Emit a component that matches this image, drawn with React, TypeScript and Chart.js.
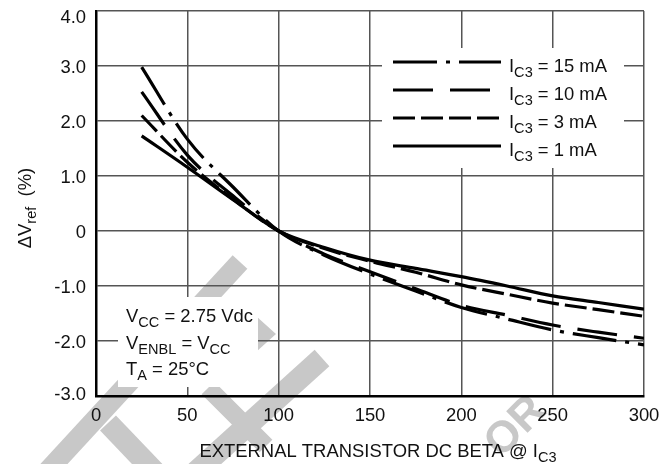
import React, { useEffect, useRef } from "react";
import { Chart, registerables } from "chart.js";

Chart.register(...registerables);

// ---- data ----
const betaValues = [25, 50, 75, 100, 125, 150, 175, 200, 225, 250, 275, 300];
const ic15mA = [2.98, 1.67, 0.8, 0, -0.44, -0.78, -1.09, -1.39, -1.6, -1.8, -1.94, -2.07];
const ic10mA = [2.53, 1.38, 0.64, 0, -0.42, -0.74, -1.05, -1.35, -1.53, -1.71, -1.84, -1.95];
const ic3mA = [2.1, 1.25, 0.58, 0, -0.32, -0.55, -0.75, -0.98, -1.15, -1.31, -1.43, -1.55];
const ic1mA = [1.73, 1.16, 0.57, 0, -0.3, -0.53, -0.68, -0.83, -1.0, -1.18, -1.3, -1.42];
const seriesLabels = ["15 mA", "10 mA", "3 mA", "1 mA"];
const xTicks = [0, 50, 100, 150, 200, 250, 300];
const yTicks = [4, 3, 2, 1, 0, -1, -2, -3];
const yTickLabels = ["4.0", "3.0", "2.0", "1.0", "0", "-1.0", "-2.0", "-3.0"];
const xTickLabels = ["0", "50", "100", "150", "200", "250", "300"];
const conditions = [
  [{ t: "V" }, { t: "CC", sub: true }, { t: " = 2.75 Vdc" }],
  [{ t: "V" }, { t: "ENBL", sub: true }, { t: " = V" }, { t: "CC", sub: true }],
  [{ t: "T" }, { t: "A", sub: true }, { t: " = 25°C" }],
];

// ---- styles ----
const FONT_FAMILY = '"Liberation Sans", Arial, sans-serif';
const MAIN_SIZE = 19;
const SUB_SIZE = 15;
const SUB_SHIFT = 5;
const HSCALE = 0.97;
const DASHES: number[][] = [[44, 9, 4, 9], [40, 17], [22, 6], []];

type Part = { t: string; sub?: boolean };

function partsWidth(ctx: CanvasRenderingContext2D, parts: Part[]) {
  let w = 0;
  for (const p of parts) {
    ctx.font = `${p.sub ? SUB_SIZE : MAIN_SIZE}px ${FONT_FAMILY}`;
    w += ctx.measureText(p.t).width;
  }
  return w;
}

function drawRich(
  ctx: CanvasRenderingContext2D,
  parts: Part[],
  x: number,
  y: number,
  align: "left" | "center" | "right" = "left"
) {
  ctx.save();
  ctx.translate(x, y);
  ctx.scale(HSCALE, 1);
  ctx.fillStyle = "#111";
  ctx.textBaseline = "alphabetic";
  ctx.textAlign = "left";
  const w = partsWidth(ctx, parts);
  let cx = align === "left" ? 0 : align === "center" ? -w / 2 : -w;
  for (const p of parts) {
    ctx.font = `${p.sub ? SUB_SIZE : MAIN_SIZE}px ${FONT_FAMILY}`;
    ctx.fillText(p.t, cx, p.sub ? SUB_SHIFT : 0);
    cx += ctx.measureText(p.t).width;
  }
  ctx.restore();
}

function band(ctx: CanvasRenderingContext2D, x1: number, y1: number, x2: number, y2: number, w: number) {
  ctx.beginPath();
  ctx.moveTo(x1, y1);
  ctx.lineTo(x2, y2);
  ctx.lineWidth = w;
  ctx.stroke();
}

const watermarkPlugin = {
  id: "watermark",
  beforeDraw(chart: any) {
    const ctx: CanvasRenderingContext2D = chart.ctx;
    ctx.save();
    ctx.strokeStyle = "#c8c8c8";
    ctx.fillStyle = "#c8c8c8";
    ctx.lineCap = "butt";
    band(ctx, 240, 262, 30, 490, 20);
    band(ctx, 108, 423, 172, 490, 22);
    band(ctx, 322, 358, 196, 472, 22);
    band(ctx, 208, 388, 266, 446, 18);
    ctx.beginPath();
    ctx.moveTo(256, 316);
    ctx.lineTo(276, 334);
    ctx.lineTo(256, 352);
    ctx.closePath();
    ctx.fill();
    ctx.translate(516, 427);
    ctx.rotate(-Math.PI / 4);
    ctx.font = `bold 44px ${FONT_FAMILY}`;
    ctx.textAlign = "center";
    ctx.textBaseline = "middle";
    ctx.fillText("OR", 0, 0);
    ctx.restore();
  },
};

const overlayPlugin = {
  id: "overlay",
  afterDraw(chart: any) {
    const ctx: CanvasRenderingContext2D = chart.ctx;
    const xs = chart.scales.x;
    const ys = chart.scales.y;
    const area = chart.chartArea;
    ctx.save();

    // white boxes
    ctx.fillStyle = "#fff";
    ctx.fillRect(382, 48, 242, 120);
    ctx.fillRect(118, 297, 140, 90);

    // legend
    const rowY = [62, 90, 118, 146];
    seriesLabels.forEach((lab, i) => {
      ctx.save();
      ctx.strokeStyle = "#000";
      ctx.lineWidth = 3.2;
      ctx.setLineDash(DASHES[i]);
      ctx.beginPath();
      ctx.moveTo(393, rowY[i]);
      ctx.lineTo(501, rowY[i]);
      ctx.stroke();
      ctx.restore();
      drawRich(ctx, [{ t: "I" }, { t: "C3", sub: true }, { t: " = " + lab }], 509, rowY[i] + 10);
    });

    // conditions
    const condY = [322, 349, 375];
    conditions.forEach((parts, i) => drawRich(ctx, parts as Part[], 126, condY[i]));

    // y tick labels
    yTicks.forEach((v, i) => {
      let py = ys.getPixelForValue(v);
      py = Math.max(area.top + 5, Math.min(area.bottom - 3, py));
      drawRich(ctx, [{ t: yTickLabels[i] }], 86, py + 7, "right");
    });

    // x tick labels
    xTicks.forEach((v, i) => {
      drawRich(ctx, [{ t: xTickLabels[i] }], xs.getPixelForValue(v), 421, "center");
    });

    // x title
    drawRich(
      ctx,
      [{ t: "EXTERNAL TRANSISTOR DC BETA @ I" }, { t: "C3", sub: true }],
      (area.left + area.right) / 2 + 8,
      457,
      "center"
    );

    // y title
    ctx.save();
    ctx.translate(31, 208);
    ctx.rotate(-Math.PI / 2);
    drawRich(ctx, [{ t: "\u0394V" }, { t: "ref", sub: true }, { t: "  (%)" }], 0, 0, "center");
    ctx.restore();

    ctx.restore();
  },
};

export default function App() {
  const canvasRef = useRef<HTMLCanvasElement | null>(null);

  useEffect(() => {
    if (!canvasRef.current) return;
    const series = [ic15mA, ic10mA, ic3mA, ic1mA];
    const chart = new Chart(canvasRef.current, {
      type: "line",
      data: {
        datasets: series.map((s, i) => ({
          label: seriesLabels[i],
          data: betaValues.map((b, j) => ({ x: b, y: s[j] })),
          borderColor: "#000",
          borderWidth: 3.2,
          borderDash: DASHES[i],
          pointRadius: 0,
          fill: false,
          cubicInterpolationMode: "monotone" as const,
        })),
      },
      options: {
        animation: false,
        responsive: false,
        devicePixelRatio: 1,
        layout: { padding: { left: 96, top: 11, right: 25, bottom: 68 } },
        plugins: { legend: { display: false }, tooltip: { enabled: false } },
        scales: {
          x: {
            type: "linear",
            min: 0,
            max: 300,
            afterBuildTicks: (s: any) => {
              s.ticks = xTicks.map((v) => ({ value: v }));
            },
            ticks: { display: false },
            grid: { color: "#555", lineWidth: 1.5, drawTicks: false, tickLength: 0 },
            border: { display: true, color: "#000", width: 2.5 },
          },
          y: {
            type: "linear",
            min: -3,
            max: 4,
            afterBuildTicks: (s: any) => {
              s.ticks = yTicks.map((v) => ({ value: v }));
            },
            ticks: { display: false },
            grid: { color: "#555", lineWidth: 1.5, drawTicks: false, tickLength: 0 },
            border: { display: true, color: "#000", width: 2.5 },
          },
        },
      },
      plugins: [watermarkPlugin, overlayPlugin],
    });
    return () => chart.destroy();
  }, []);

  return (
    <div style={{ position: "fixed", left: 0, top: 0, width: 669, height: 464, background: "#fff" }}>
      <canvas ref={canvasRef} width={669} height={464} style={{ display: "block" }} />
    </div>
  );
}
